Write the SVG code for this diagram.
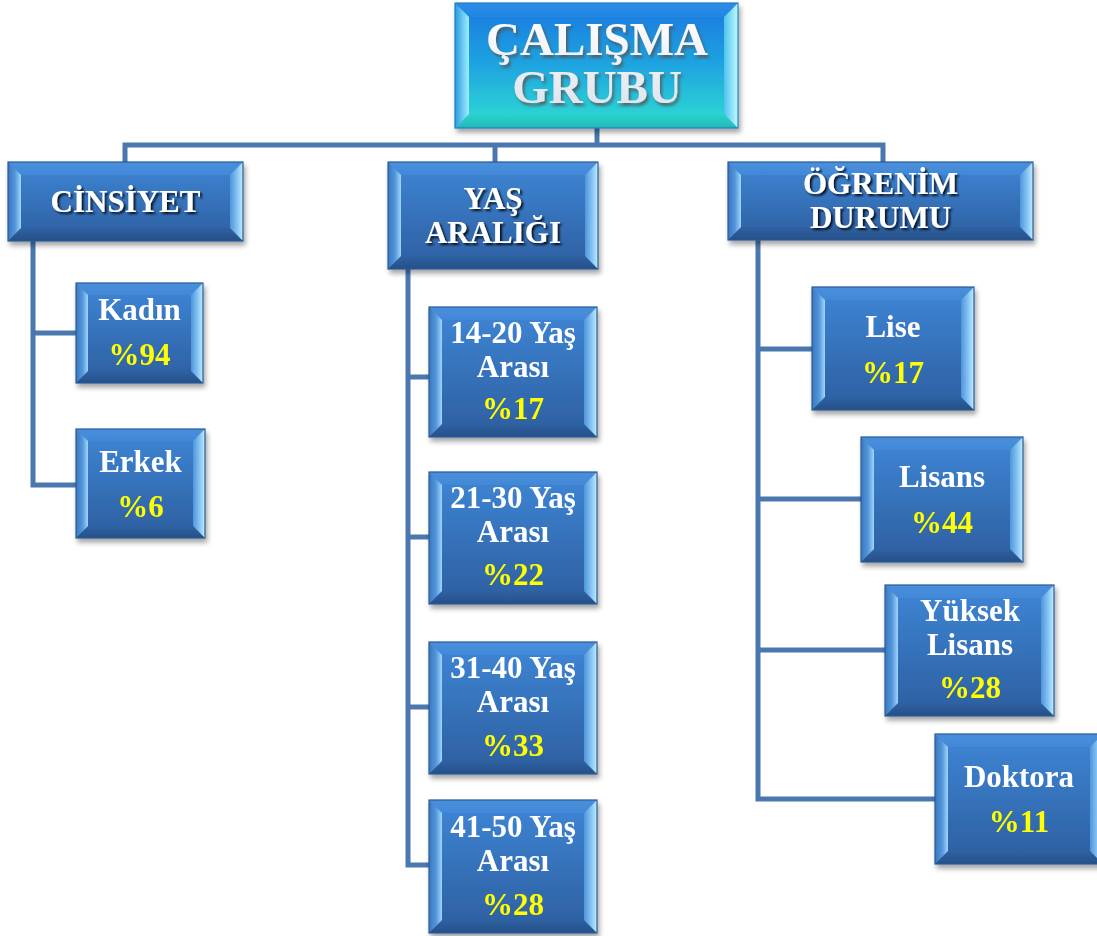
<svg xmlns="http://www.w3.org/2000/svg" width="1097" height="936" viewBox="0 0 1097 936">
<style>
.ln{fill:none;stroke:#4a77b0;stroke-width:5;stroke-linejoin:miter}
.face{fill:url(#gFace)}
.bt{fill:url(#gTop)}
.bb{fill:url(#gBot)}
.bl{fill:url(#gLeft)}
.br{fill:url(#gRight)}
.edge{fill:none;stroke:#2a5a95;stroke-width:1.2}
.tface{fill:url(#gTFace)}
.tbt{fill:url(#gTTop)}
.tbb{fill:url(#gTBot)}
.tbl{fill:url(#gTLeft)}
.tbr{fill:url(#gTRight)}
.tedge{fill:none;stroke:#1d7fc0;stroke-width:1.2}
.t{font-family:"Liberation Serif","Times New Roman",serif;font-weight:bold;text-anchor:middle}
.title{font-size:47px;fill:url(#gTxt);filter:url(#embo)}
.cat{font-size:31px;fill:#fff;filter:url(#tsh)}
.leaf{font-size:31px;fill:#fff}
.pct{font-size:31px;fill:#ffff00}
.nd{filter:url(#sh)}
</style>
<defs>
<linearGradient id="gFace" x1="0" y1="0" x2="0" y2="1"><stop offset="0" stop-color="#3e86d6"/><stop offset="1" stop-color="#2d5e9f"/></linearGradient>
<linearGradient id="gTop" x1="0" y1="0" x2="0" y2="1"><stop offset="0" stop-color="#4a8fdc"/><stop offset="1" stop-color="#4189d8"/></linearGradient>
<linearGradient id="gBot" x1="0" y1="0" x2="0" y2="1"><stop offset="0" stop-color="#2f62a3"/><stop offset="1" stop-color="#264f88"/></linearGradient>
<linearGradient id="gLeft" x1="0" y1="0" x2="1" y2="0"><stop offset="0" stop-color="#3877c2"/><stop offset="0.55" stop-color="#5597da"/><stop offset="1" stop-color="#9fd6fd"/></linearGradient>
<linearGradient id="gRight" x1="0" y1="0" x2="1" y2="0"><stop offset="0" stop-color="#4f95dc"/><stop offset="0.6" stop-color="#8cc8f5"/><stop offset="1" stop-color="#c2ecff"/></linearGradient>
<linearGradient id="gTFace" x1="0" y1="0" x2="0" y2="1"><stop offset="0" stop-color="#1877e0"/><stop offset="0.5" stop-color="#1fa5e0"/><stop offset="1" stop-color="#2edfd2"/></linearGradient>
<linearGradient id="gTTop" x1="0" y1="0" x2="0" y2="1"><stop offset="0" stop-color="#2d8de6"/><stop offset="1" stop-color="#2286e4"/></linearGradient>
<linearGradient id="gTBot" x1="0" y1="0" x2="0" y2="1"><stop offset="0" stop-color="#2ad3cc"/><stop offset="1" stop-color="#23b8b8"/></linearGradient>
<linearGradient id="gTLeft" x1="0" y1="0" x2="1" y2="0"><stop offset="0" stop-color="#2a9ae0"/><stop offset="1" stop-color="#9ef0ff"/></linearGradient>
<linearGradient id="gTRight" x1="0" y1="0" x2="1" y2="0"><stop offset="0" stop-color="#4fc2ee"/><stop offset="1" stop-color="#c0fbff"/></linearGradient>
<linearGradient id="gTxt" x1="0" y1="0" x2="0" y2="1"><stop offset="0" stop-color="#ffffff"/><stop offset="1" stop-color="#dde2ec"/></linearGradient>
<filter id="sh" x="-10%" y="-10%" width="125%" height="130%"><feDropShadow dx="2" dy="4" stdDeviation="2.5" flood-color="#000" flood-opacity="0.35"/></filter>
<filter id="tsh" x="-10%" y="-20%" width="125%" height="150%"><feDropShadow dx="2" dy="2" stdDeviation="1.3" flood-color="#000" flood-opacity="0.85"/></filter>
<filter id="embo" x="-10%" y="-20%" width="125%" height="150%"><feDropShadow dx="2" dy="3" stdDeviation="1.5" flood-color="#555" flood-opacity="0.8"/></filter>
</defs>

<g id="connectors">
<polyline class="ln" points="597,128 597,145"/>
<polyline class="ln" points="125,162 125,145 883,145 883,162"/>
<polyline class="ln" points="495,145 495,162"/>
<polyline class="ln" points="33,241 33,485 76,485"/>
<polyline class="ln" points="33,333 76,333"/>
<polyline class="ln" points="408,269 408,865 429,865"/>
<polyline class="ln" points="408,377 429,377"/>
<polyline class="ln" points="408,537 429,537"/>
<polyline class="ln" points="408,707 429,707"/>
<polyline class="ln" points="758,240 758,799 935,799"/>
<polyline class="ln" points="758,349 812,349"/>
<polyline class="ln" points="758,499 861,499"/>
<polyline class="ln" points="758,650 885,650"/>
</g>

<g id="title" class="nd">
<rect class="tface" x="455" y="3" width="283" height="125"/>
<polygon class="tbt" points="455,3 738,3 724,17 469,17"/>
<polygon class="tbb" points="455,128 738,128 724,114 469,114"/>
<polygon class="tbl" points="455,3 469,17 469,114 455,128"/>
<polygon class="tbr" points="724,17 738,3 738,128 724,114"/>
<rect class="tedge" x="455" y="3" width="283" height="125"/>
<text class="t title"><tspan x="597" y="55">ÇALIŞMA</tspan><tspan x="597" y="103">GRUBU</tspan></text>
</g>

<g id="cinsiyet" class="nd">
<rect class="face" x="8" y="162" width="235" height="79"/>
<polygon class="bt" points="8,162 243,162 230,175 21,175"/>
<polygon class="bb" points="8,241 243,241 230,228 21,228"/>
<polygon class="bl" points="8,162 21,175 21,228 8,241"/>
<polygon class="br" points="230,175 243,162 243,241 230,228"/>
<rect class="edge" x="8" y="162" width="235" height="79"/>
<text class="t cat" x="125.5" y="212">CİNSİYET</text>
</g>

<g id="yas" class="nd">
<rect class="face" x="388" y="162" width="210" height="107"/>
<polygon class="bt" points="388,162 598,162 585,175 401,175"/>
<polygon class="bb" points="388,269 598,269 585,256 401,256"/>
<polygon class="bl" points="388,162 401,175 401,256 388,269"/>
<polygon class="br" points="585,175 598,162 598,269 585,256"/>
<rect class="edge" x="388" y="162" width="210" height="107"/>
<text class="t cat"><tspan x="493" y="209">YAŞ</tspan><tspan x="493" y="243">ARALIĞI</tspan></text>
</g>

<g id="ogrenim" class="nd">
<rect class="face" x="728" y="162" width="305" height="78"/>
<polygon class="bt" points="728,162 1033,162 1020,175 741,175"/>
<polygon class="bb" points="728,240 1033,240 1020,227 741,227"/>
<polygon class="bl" points="728,162 741,175 741,227 728,240"/>
<polygon class="br" points="1020,175 1033,162 1033,240 1020,227"/>
<rect class="edge" x="728" y="162" width="305" height="78"/>
<text class="t cat"><tspan x="880.5" y="194">ÖĞRENİM</tspan><tspan x="880.5" y="228">DURUMU</tspan></text>
</g>

<g id="kadin" class="nd">
<rect class="face" x="76" y="283" width="127" height="100"/>
<polygon class="bt" points="76,283 203,283 191,295 88,295"/>
<polygon class="bb" points="76,383 203,383 191,371 88,371"/>
<polygon class="bl" points="76,283 88,295 88,371 76,383"/>
<polygon class="br" points="191,295 203,283 203,383 191,371"/>
<rect class="edge" x="76" y="283" width="127" height="100"/>
<text class="t leaf" x="139.5" y="320">Kadın</text>
<text class="t pct" x="139.5" y="365">%94</text>
</g>

<g id="erkek" class="nd">
<rect class="face" x="76" y="429" width="129" height="109"/>
<polygon class="bt" points="76,429 205,429 193,441 88,441"/>
<polygon class="bb" points="76,538 205,538 193,526 88,526"/>
<polygon class="bl" points="76,429 88,441 88,526 76,538"/>
<polygon class="br" points="193,441 205,429 205,538 193,526"/>
<rect class="edge" x="76" y="429" width="129" height="109"/>
<text class="t leaf" x="140.5" y="472">Erkek</text>
<text class="t pct" x="140.5" y="517">%6</text>
</g>

<g id="yas1420" class="nd">
<rect class="face" x="429" y="307" width="168" height="130"/>
<polygon class="bt" points="429,307 597,307 584,320 442,320"/>
<polygon class="bb" points="429,437 597,437 584,424 442,424"/>
<polygon class="bl" points="429,307 442,320 442,424 429,437"/>
<polygon class="br" points="584,320 597,307 597,437 584,424"/>
<rect class="edge" x="429" y="307" width="168" height="130"/>
<text class="t leaf"><tspan x="513" y="343">14-20 Yaş</tspan><tspan x="513" y="377">Arası</tspan></text>
<text class="t pct" x="513" y="419">%17</text>
</g>

<g id="yas2130" class="nd">
<rect class="face" x="429" y="472" width="168" height="132"/>
<polygon class="bt" points="429,472 597,472 584,485 442,485"/>
<polygon class="bb" points="429,604 597,604 584,591 442,591"/>
<polygon class="bl" points="429,472 442,485 442,591 429,604"/>
<polygon class="br" points="584,485 597,472 597,604 584,591"/>
<rect class="edge" x="429" y="472" width="168" height="132"/>
<text class="t leaf"><tspan x="513" y="508">21-30 Yaş</tspan><tspan x="513" y="542">Arası</tspan></text>
<text class="t pct" x="513" y="585">%22</text>
</g>

<g id="yas3140" class="nd">
<rect class="face" x="429" y="642" width="168" height="132"/>
<polygon class="bt" points="429,642 597,642 584,655 442,655"/>
<polygon class="bb" points="429,774 597,774 584,761 442,761"/>
<polygon class="bl" points="429,642 442,655 442,761 429,774"/>
<polygon class="br" points="584,655 597,642 597,774 584,761"/>
<rect class="edge" x="429" y="642" width="168" height="132"/>
<text class="t leaf"><tspan x="513" y="678">31-40 Yaş</tspan><tspan x="513" y="712">Arası</tspan></text>
<text class="t pct" x="513" y="756">%33</text>
</g>

<g id="yas4150" class="nd">
<rect class="face" x="429" y="800" width="168" height="133"/>
<polygon class="bt" points="429,800 597,800 584,813 442,813"/>
<polygon class="bb" points="429,933 597,933 584,920 442,920"/>
<polygon class="bl" points="429,800 442,813 442,920 429,933"/>
<polygon class="br" points="584,813 597,800 597,933 584,920"/>
<rect class="edge" x="429" y="800" width="168" height="133"/>
<text class="t leaf"><tspan x="513" y="837">41-50 Yaş</tspan><tspan x="513" y="871">Arası</tspan></text>
<text class="t pct" x="513" y="915">%28</text>
</g>

<g id="lise" class="nd">
<rect class="face" x="812" y="287" width="162" height="123"/>
<polygon class="bt" points="812,287 974,287 961,300 825,300"/>
<polygon class="bb" points="812,410 974,410 961,397 825,397"/>
<polygon class="bl" points="812,287 825,300 825,397 812,410"/>
<polygon class="br" points="961,300 974,287 974,410 961,397"/>
<rect class="edge" x="812" y="287" width="162" height="123"/>
<text class="t leaf" x="893" y="337">Lise</text>
<text class="t pct" x="893" y="383">%17</text>
</g>

<g id="lisans" class="nd">
<rect class="face" x="861" y="437" width="162" height="125"/>
<polygon class="bt" points="861,437 1023,437 1010,450 874,450"/>
<polygon class="bb" points="861,562 1023,562 1010,549 874,549"/>
<polygon class="bl" points="861,437 874,450 874,549 861,562"/>
<polygon class="br" points="1010,450 1023,437 1023,562 1010,549"/>
<rect class="edge" x="861" y="437" width="162" height="125"/>
<text class="t leaf" x="942" y="487">Lisans</text>
<text class="t pct" x="942" y="533">%44</text>
</g>

<g id="yuksek" class="nd">
<rect class="face" x="885" y="585" width="169" height="131"/>
<polygon class="bt" points="885,585 1054,585 1041,598 898,598"/>
<polygon class="bb" points="885,716 1054,716 1041,703 898,703"/>
<polygon class="bl" points="885,585 898,598 898,703 885,716"/>
<polygon class="br" points="1041,598 1054,585 1054,716 1041,703"/>
<rect class="edge" x="885" y="585" width="169" height="131"/>
<text class="t leaf"><tspan x="970" y="621">Yüksek</tspan><tspan x="970" y="655">Lisans</tspan></text>
<text class="t pct" x="970" y="698">%28</text>
</g>

<g id="doktora" class="nd">
<rect class="face" x="935" y="734" width="168" height="130"/>
<polygon class="bt" points="935,734 1103,734 1090,747 948,747"/>
<polygon class="bb" points="935,864 1103,864 1090,851 948,851"/>
<polygon class="bl" points="935,734 948,747 948,851 935,864"/>
<polygon class="br" points="1090,747 1103,734 1103,864 1090,851"/>
<rect class="edge" x="935" y="734" width="168" height="130"/>
<text class="t leaf" x="1019" y="787">Doktora</text>
<text class="t pct" x="1019" y="832">%11</text>
</g>
</svg>
